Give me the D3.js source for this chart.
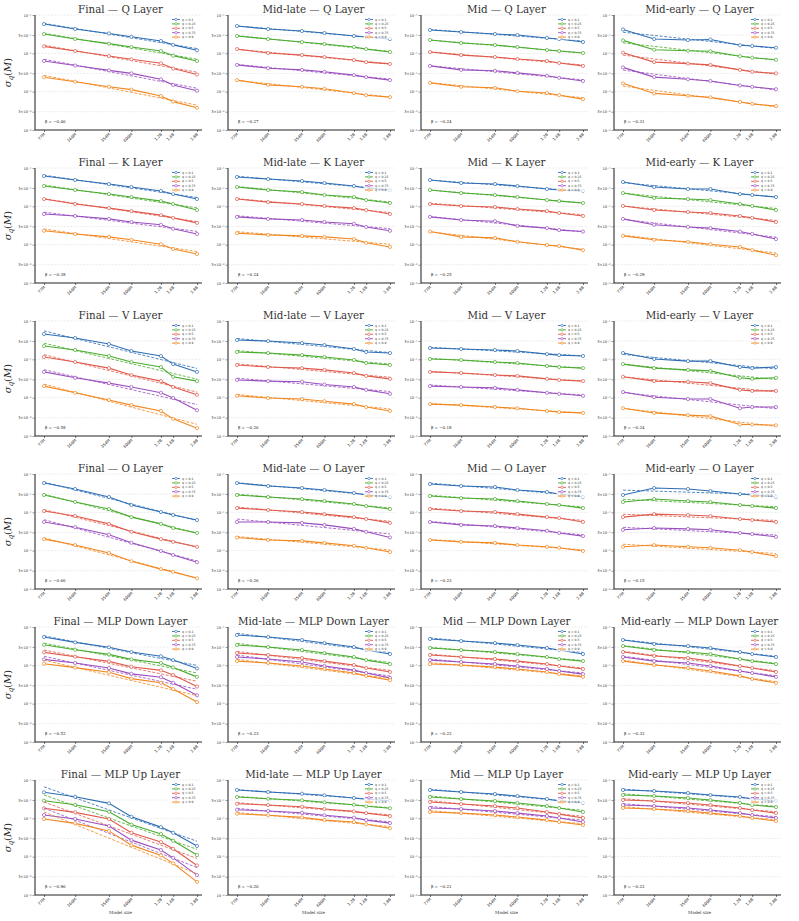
<!DOCTYPE html>
<html>
<head>
<meta charset="utf-8">
<script src="https://cdn.jsdelivr.net/npm/d3@7"></script>
<style>
	body { margin: 0; background: #fff; }
	text { font-family: "DejaVu Serif", serif; }
</style>
</head>
<body>
<svg id="chart" width="799" height="921"></svg>
<script>
// model sizes on the x axis
const modelSizes = [77e6, 160e6, 354e6, 600e6, 1.2e9, 1.6e9, 2.8e9];
const sizeLabels = ["77M", "160M", "354M", "600M", "1.2B", "1.6B", "2.8B"];
const quantiles = [0.1, 0.25, 0.5, 0.75, 0.9];
const stages = ["Final", "Mid-late", "Mid", "Mid-early"];
const layers = ["Q", "K", "V", "O", "MLP Down", "MLP Up"];
const colors = ["#2e6db4", "#4aab2f", "#e05a4c", "#9a4fbf", "#f2871f"];

const yTicks = [1e-4, 3e-4, 1e-3, 3e-3, 1e-2, 3e-2, 1e-1];
const yTickLabels = ["10⁻⁴", "3×10⁻⁴", "10⁻³", "3×10⁻³", "10⁻²", "3×10⁻²", "10⁻¹"];

// fitted exponent shown in each panel (rows = layers, cols = stages)
const betas = [
	[-0.46, -0.27, -0.24, -0.31],
	[-0.38, -0.24, -0.25, -0.29],
	[-0.58, -0.26, -0.18, -0.24],
	[-0.66, -0.26, -0.23, -0.15],
	[-0.52, -0.23, -0.22, -0.32],
	[-0.96, -0.20, -0.21, -0.22],
];

// sigma_q(M) values, in units of 1e-3; one row per quantile
const qFinal = [[58, 43, 33, 27, 21, 16.6, 12], [31.9, 23.7, 17.9, 14.6, 11.5, 8.7, 6.3], [15.2, 11.5, 8.5, 7.0, 5.5, 4.0, 2.8], [6.3, 4.8, 3.6, 3.0, 2.1, 1.5, 1.06], [2.37, 1.82, 1.35, 1.13, 0.77, 0.55, 0.38]];
const qMidLate = [[51.6, 43.1, 38.2, 33.9, 28.3, 26.6, 23.6], [28.3, 23.6, 19.7, 17.5, 14.6, 12.9, 10.8], [12.9, 10.2, 9.0, 8.0, 6.7, 5.9, 5.3], [5.0, 4.1, 3.7, 3.3, 2.7, 2.4, 2.0], [2.0, 1.5, 1.34, 1.19, 0.92, 0.81, 0.72]];
const qMid = [[40.6, 36.0, 31.9, 30.0, 25.1, 23.6, 19.7], [22.2, 18.6, 16.5, 14.6, 12.2, 11.5, 10.2], [10.8, 9.0, 8.0, 7.1, 6.3, 5.6, 4.7], [4.7, 3.7, 3.5, 3.1, 2.6, 2.3, 1.9], [1.7, 1.34, 1.26, 1.03, 0.92, 0.81, 0.64]];
const qMidEarly = [[42, 23.6, 22.2, 23, 16.2, 15.5, 14], [21.8, 12.4, 11.7, 11.3, 8.4, 7.7, 6.8], [10.4, 5.9, 5.4, 5.0, 3.7, 3.3, 3.0], [4.3, 2.4, 2.1, 1.9, 1.45, 1.34, 1.16], [1.65, 0.90, 0.78, 0.71, 0.54, 0.48, 0.42]];

const kFinal = [[61.8, 48.6, 38.2, 31.9, 25.1, 20.9, 15.5], [33.9, 26.6, 20.9, 17.5, 13.7, 11.5, 8.0], [15.5, 11.5, 9.0, 7.5, 5.9, 5.0, 3.7], [6.3, 5.6, 4.7, 3.9, 3.3, 2.6, 1.9], [2.3, 1.9, 1.6, 1.34, 1.03, 0.77, 0.57]];
const kMidLate = [[58.2, 51.6, 45.8, 40.6, 33.9, 30.0, 26.6], [31.9, 26.6, 23.6, 19.7, 17.5, 14.6, 12.2], [15.5, 12.9, 11.5, 10.2, 9.0, 8.0, 6.3], [5.3, 4.7, 4.4, 3.9, 3.5, 2.9, 2.3], [2.0, 1.8, 1.7, 1.6, 1.4, 1.12, 0.87]];
const kMid = [[48.6, 40.6, 38.2, 33.9, 28.3, 26.6, 25.1], [26.6, 22.2, 19.7, 17.5, 14.6, 13.7, 12.2], [11.5, 10.2, 9.6, 8.5, 7.5, 6.7, 5.6], [5.3, 4.4, 4.1, 3.1, 2.7, 2.4, 2.2], [2.2, 1.6, 1.5, 1.19, 0.98, 0.92, 0.72]];
const kMidEarly = [[43.1, 31.9, 28.3, 28.3, 20.9, 19.7, 17.5], [22.2, 16.5, 15.5, 14.6, 11.5, 10.2, 8.0], [10.2, 8.0, 7.1, 6.7, 5.6, 5.0, 3.9], [4.7, 3.3, 2.9, 2.7, 2.2, 1.9, 1.4], [1.7, 1.34, 1.19, 1.03, 0.87, 0.72, 0.53]];

const vFinal = [[45.8, 36.0, 25.1, 16.5, 12.2, 7.5, 4.7], [22.2, 17.5, 12.2, 8.5, 6.3, 3.5, 2.7], [11.5, 8.5, 5.9, 3.9, 2.7, 1.9, 1.19], [4.7, 3.3, 2.4, 1.9, 1.34, 0.98, 0.47], [2.0, 1.34, 0.87, 0.64, 0.45, 0.28, 0.16]];
const vMidLate = [[31.9, 30.0, 26.6, 23.6, 18.6, 15.5, 14.6], [15.5, 14.6, 12.9, 11.5, 9.6, 8.0, 7.1], [7.1, 6.3, 5.9, 5.3, 4.4, 3.7, 3.1], [2.9, 2.7, 2.6, 2.2, 1.9, 1.6, 1.26], [1.12, 0.98, 0.92, 0.81, 0.68, 0.57, 0.45]];
const vMid = [[19.7, 18.6, 17.5, 16.5, 13.7, 12.9, 12.2], [10.2, 9.6, 8.5, 8.0, 6.7, 6.3, 5.9], [4.7, 4.4, 3.9, 3.7, 3.1, 2.9, 2.7], [2.0, 1.9, 1.8, 1.6, 1.34, 1.26, 1.12], [0.68, 0.64, 0.57, 0.53, 0.45, 0.42, 0.40]];
const vMidEarly = [[14.6, 10.2, 9.0, 9.0, 6.3, 5.9, 6.3], [7.5, 5.9, 5.3, 5.0, 3.3, 3.1, 3.3], [3.5, 2.7, 2.6, 2.4, 1.6, 1.5, 1.5], [1.4, 1.03, 0.92, 0.92, 0.53, 0.57, 0.57], [0.53, 0.40, 0.35, 0.33, 0.20, 0.20, 0.19]];

const oFinal = [[58.2, 40.6, 25.1, 15.5, 10.2, 8.5, 6.3], [28.3, 18.6, 12.2, 7.5, 5.0, 3.9, 2.9], [10.8, 8.0, 5.0, 3.1, 2.0, 1.7, 1.26], [5.6, 4.1, 2.6, 1.6, 0.98, 0.77, 0.50], [2.0, 1.4, 0.87, 0.53, 0.33, 0.28, 0.19]];
const oMidLate = [[58.2, 48.6, 43.1, 38.2, 31.9, 28.3, 25.1], [28.3, 25.1, 22.2, 19.7, 16.5, 14.6, 12.2], [12.9, 11.5, 10.2, 9.0, 7.5, 6.7, 5.3], [5.6, 5.6, 5.3, 4.7, 3.7, 3.1, 2.2], [2.2, 1.9, 1.8, 1.6, 1.34, 1.19, 0.92]];
const oMid = [[54.8, 48.6, 45.8, 38.2, 33.9, 30.0, 25.1], [26.6, 23.6, 22.2, 19.7, 16.5, 15.5, 12.9], [12.2, 10.8, 10.2, 9.0, 7.5, 7.1, 5.6], [5.6, 4.7, 4.4, 3.9, 3.3, 2.9, 2.4], [1.9, 1.7, 1.6, 1.4, 1.26, 1.19, 0.98]];
const oMidEarly = [[28.3, 43.1, 40.6, 36.0, 30.0, 28.3, 25.1], [18.6, 22.2, 19.7, 18.6, 15.5, 14.6, 12.9], [7.5, 9.0, 8.5, 8.0, 6.7, 6.3, 5.6], [3.5, 3.9, 3.7, 3.5, 2.9, 2.7, 2.3], [1.26, 1.4, 1.26, 1.19, 1.03, 0.92, 0.72]];

const downFinal = [[54.8, 39.8, 29.5, 22.2, 17.2, 13.7, 8.3], [34.5, 25.5, 19.3, 14.3, 11.5, 8.8, 5.0], [21.8, 16.8, 12.7, 9.2, 7.4, 5.6, 2.8], [14.3, 11.5, 8.5, 6.0, 4.9, 3.5, 1.65], [11.0, 8.7, 6.6, 4.5, 3.5, 2.4, 1.1]];
const downMidLate = [[61.8, 54.8, 45.8, 38.2, 30.0, 25.1, 19.7], [33.9, 30.0, 25.1, 20.9, 16.5, 13.7, 10.8], [20.9, 18.6, 15.5, 12.9, 10.2, 8.5, 6.7], [16.5, 14.6, 12.2, 9.6, 7.5, 6.3, 4.7], [12.9, 11.5, 9.6, 8.0, 6.3, 5.3, 4.1]];
const downMid = [[48.6, 43.1, 38.2, 33.9, 28.3, 25.1, 19.7], [28.3, 25.1, 22.2, 19.7, 16.5, 14.6, 12.9], [18.6, 16.5, 14.6, 12.9, 10.8, 9.6, 8.0], [13.7, 12.2, 10.8, 9.6, 8.0, 7.1, 5.9], [10.8, 10.2, 9.0, 8.0, 6.7, 5.9, 5.0]];
const downMidEarly = [[45.8, 36.0, 31.9, 28.3, 22.2, 19.7, 16.5], [31.9, 25.1, 22.2, 19.7, 14.6, 12.9, 10.8], [22.2, 17.5, 15.5, 12.9, 9.6, 8.5, 6.7], [16.5, 12.9, 11.5, 9.6, 7.1, 6.3, 5.0], [12.9, 10.2, 8.5, 7.1, 5.3, 4.4, 3.5]];

const upFinal = [[47.7, 36.6, 24.6, 11.0, 5.9, 4.2, 1.9], [28.8, 22.6, 14.8, 6.9, 3.9, 2.6, 1.1], [18.3, 14.3, 9.6, 4.2, 2.4, 1.6, 0.59], [12.2, 9.6, 6.3, 2.7, 1.5, 0.93, 0.33], [9.6, 7.4, 4.7, 2.0, 1.08, 0.67, 0.22]];
const upMidLate = [[54.8, 48.6, 43.9, 39.9, 33.9, 31.4, 28.8], [36.0, 32.5, 29.5, 26.2, 22.6, 20.6, 18.3], [24.0, 22.2, 20.1, 17.5, 15.2, 13.7, 11.5], [16.8, 15.5, 14.0, 12.0, 10.4, 9.0, 7.5], [13.2, 12.0, 10.6, 9.0, 8.0, 7.0, 5.5]];
const upMid = [[54.8, 48.6, 43.1, 38.2, 31.9, 28.3, 25.1], [36.0, 31.9, 28.3, 25.1, 20.9, 18.6, 14.6], [26.6, 23.6, 20.9, 18.6, 14.6, 12.9, 10.2], [18.6, 17.5, 15.5, 13.7, 11.5, 10.2, 8.0], [14.6, 13.7, 12.2, 10.8, 9.0, 8.0, 6.7]];
const upMidEarly = [[54.8, 51.6, 45.8, 40.6, 36.0, 31.9, 28.3], [40.6, 38.2, 33.9, 30.0, 25.1, 22.2, 19.7], [30.0, 28.3, 25.1, 22.2, 18.6, 16.5, 13.7], [22.2, 20.9, 18.6, 16.5, 13.7, 12.2, 10.2], [18.6, 17.5, 15.5, 13.7, 11.5, 10.2, 8.5]];

const panelData = [
	[qFinal, qMidLate, qMid, qMidEarly],
	[kFinal, kMidLate, kMid, kMidEarly],
	[vFinal, vMidLate, vMid, vMidEarly],
	[oFinal, oMidLate, oMid, oMidEarly],
	[downFinal, downMidLate, downMid, downMidEarly],
	[upFinal, upMidLate, upMid, upMidEarly],
];

const svg = d3.select("#chart");

// least squares fit in log-log space, evaluated at the two ends
function fitEnds(vals) {
	const lx = modelSizes.map(Math.log10), ly = vals.map(v => Math.log10(v));
	const mx = d3.mean(lx), my = d3.mean(ly);
	const slope = d3.sum(lx, (d, i) => (d - mx) * (ly[i] - my)) / d3.sum(lx, d => (d - mx) ** 2);
	const first = lx[0], last = lx[lx.length - 1];
	return [
		[modelSizes[0], 10 ** (my + slope * (first - mx))],
		[modelSizes[modelSizes.length - 1], 10 ** (my + slope * (last - mx))],
	];
}

function drawPanel(r, c) {
	const ox = 35 + 193 * c;
	const top = 15 + 153 * r;
	const bottom = top + 115;
	const g = svg.append("g");

	const x = d3.scaleLog().domain([modelSizes[0], modelSizes[6]]).range([ox + 9, ox + 162]);
	const y = d3.scaleLog().domain([1e-4, 1e-1]).range([bottom, top]);

	// grid
	g.selectAll("line.grid").data(yTicks).enter()
		.append("line")
		.attr("class", "grid")
		.attr("x1", ox).attr("x2", ox + 167)
		.attr("y1", d => y(d)).attr("y2", d => y(d))
		.style("stroke", "#d8d8d8")
		.style("stroke-width", 0.5)
		.style("stroke-dasharray", "2,1.2");

	// y axis
	const yAxis = g.append("g")
		.attr("transform", `translate(${ox},0)`)
		.call(d3.axisLeft(y).tickValues(yTicks).tickFormat((d, i) => yTickLabels[i]).tickSize(2.5).tickPadding(1));
	yAxis.select(".domain").remove();
	yAxis.selectAll("text").style("font-size", "3.6px").style("font-family", "DejaVu Sans").attr("fill", "#333");
	yAxis.selectAll("line").style("stroke", "#333").style("stroke-width", 0.5);
	g.append("line")
		.attr("x1", ox).attr("x2", ox).attr("y1", top).attr("y2", bottom)
		.style("stroke", "#666").style("stroke-width", 1.5);

	// x axis
	const xAxis = g.append("g")
		.attr("transform", `translate(0,${bottom})`)
		.call(d3.axisBottom(x).tickValues(modelSizes).tickFormat((d, i) => sizeLabels[i]).tickSize(2).tickSizeOuter(0));
	xAxis.select(".domain").remove();
	xAxis.selectAll("line").style("stroke", "#222").style("stroke-width", 0.6);
	xAxis.selectAll("text")
		.style("font-size", "4px")
		.style("font-family", "DejaVu Sans")
		.attr("fill", "#333")
		.attr("text-anchor", "end")
		.attr("dy", null)
		.attr("y", 0)
		.attr("transform", "translate(1,4.5) rotate(-45)");
	g.append("line")
		.attr("x1", ox).attr("x2", ox + 167).attr("y1", bottom).attr("y2", bottom)
		.style("stroke", "#111").style("stroke-width", 0.9);

	const series = panelData[r][c];
	const line = d3.line().x((d, j) => x(modelSizes[j])).y(d => y(d * 1e-3));
	const fitLine = d3.line().x(d => x(d[0])).y(d => y(d[1] * 1e-3));

	series.forEach((vals, i) => {
		g.append("path")
			.attr("d", line(vals))
			.style("fill", "none")
			.style("stroke", colors[i])
			.style("stroke-width", 1.1);
		g.append("path")
			.attr("d", fitLine(fitEnds(vals)))
			.style("fill", "none")
			.style("stroke", colors[i])
			.style("stroke-width", 0.9)
			.style("stroke-dasharray", "3,1.6")
			.style("opacity", 0.9);
		g.selectAll(null).data(vals).enter()
			.append("circle")
			.attr("cx", (d, j) => x(modelSizes[j]))
			.attr("cy", d => y(d * 1e-3))
			.attr("r", 1.6)
			.style("fill", "#fff")
			.style("stroke", colors[i])
			.style("stroke-width", 0.7);
	});

	// legend
	const lg = g.append("g").attr("transform", `translate(${ox + 137},${top + 4.5})`);
	lg.append("rect")
		.attr("x", -1.5).attr("y", -2.5).attr("width", 30).attr("height", 22.5)
		.style("fill", "#fff").style("opacity", 0.75);
	quantiles.forEach((q, i) => {
		const ly = i * 4.4;
		lg.append("line").attr("x1", 0).attr("x2", 8).attr("y1", ly).attr("y2", ly)
			.style("stroke", colors[i]).style("stroke-width", 0.9);
		lg.append("circle").attr("cx", 4).attr("cy", ly).attr("r", 1.2)
			.style("fill", "#fff").style("stroke", colors[i]).style("stroke-width", 0.6);
		lg.append("text").attr("x", 10).attr("y", ly + 1)
			.style("font-size", "3.1px").style("font-family", "DejaVu Sans").attr("fill", "#333")
			.text(`q = ${q}`);
	});

	// title
	g.append("text")
		.attr("x", ox + 85.5).attr("y", top - 2)
		.attr("text-anchor", "middle")
		.style("font-size", "10.3px")
		.attr("fill", "#333")
		.text(`${stages[c]} — ${layers[r]} Layer`);

	// beta annotation
	g.append("text")
		.attr("x", ox + 10).attr("y", bottom - 7)
		.style("font-size", "4px")
		.attr("fill", "#222")
		.text(`β = ${d3.format(".2f")(betas[r][c]).replace("-", "−")}`);

	if (c === 0) {
		const yl = g.append("text")
			.attr("transform", `translate(11,${top + 57.5}) rotate(-90)`)
			.attr("text-anchor", "middle")
			.style("font-size", "10px")
			.attr("fill", "#222");
		yl.append("tspan").style("font-style", "italic").text("σ");
		yl.append("tspan").style("font-style", "italic").style("font-size", "7px").attr("dy", 2).text("q");
		yl.append("tspan").attr("dy", -2).text("(");
		yl.append("tspan").style("font-style", "italic").text("M");
		yl.append("tspan").text(")");
	}

	if (r === layers.length - 1) {
		g.append("text")
			.attr("x", ox + 85.5).attr("y", bottom + 19)
			.attr("text-anchor", "middle")
			.style("font-size", "4.2px")
			.attr("fill", "#333")
			.text("Model size");
	}
}

for (let r = 0; r < layers.length; r++) {
	for (let c = 0; c < stages.length; c++) {
		drawPanel(r, c);
	}
}
</script>
</body>
</html>
